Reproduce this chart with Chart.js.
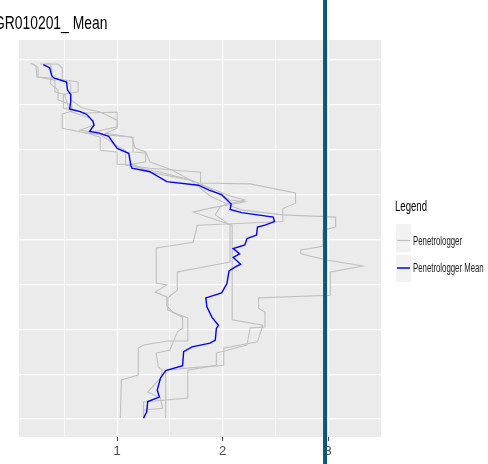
<!DOCTYPE html>
<html>
<head>
<meta charset="utf-8">
<script src="https://cdn.jsdelivr.net/npm/chart.js@4"></script>
<style>
  html, body { margin: 0; padding: 0; background: #fff; }
</style>
</head>
<body>
<canvas id="penChart" width="488" height="464"></canvas>
<script>
// --- data: [resistance, depth] pairs ---
const titleText = 'GR010201_ Mean';
const seriesNames = ['Penetrologger', 'Penetrologger Mean'];
const xTicks = [0.5, 1, 1.5, 2, 2.5, 3, 3.5];
const yTicks = [0, 10, 20, 30, 40, 50, 60, 70, 80];
const limitValue = 2.97;

const profile1 = [[0.20,0.9],[0.25,1.6],[0.25,3.8],[0.41,4.5],[0.41,7.1],[0.49,7.6],[0.49,10.7],[0.70,11.8],[1.00,11.6],[1.00,14.9],[0.72,16.3],[1.15,17.2],[1.15,20.5],[1.27,20.7],[1.27,22.7],[1.10,23.4],[1.31,24.1],[1.79,25.0],[1.79,27.4],[2.26,27.6],[2.69,29.6],[2.69,31.9],[2.57,33.1],[2.57,36.0],[1.76,36.8],[1.72,40.6],[1.37,41.9],[1.37,49.7],[1.47,50.1],[1.36,51.7],[1.47,52.8],[1.47,54.8],[1.53,56.2],[1.67,57.5],[1.67,62.6],[1.48,62.6],[1.25,63.5],[1.20,64.2],[1.20,70.2],[1.04,71.3],[1.03,79.8]];
const profile2 = [[0.32,0.9],[0.44,0.9],[0.48,1.8],[0.48,4.5],[0.56,5.3],[0.56,8.9],[0.67,10.7],[0.84,11.6],[1.00,13.4],[1.00,15.2],[0.89,16.3],[1.14,17.2],[1.17,19.6],[1.27,20.5],[1.31,22.7],[1.52,24.5],[1.69,26.7],[1.88,30.3],[2.17,33.4],[2.57,34.5],[3.07,35.0],[3.07,37.2],[2.95,37.9],[2.95,41.5],[2.74,42.3],[2.74,43.2],[3.00,44.6],[3.33,45.9],[3.02,47.2],[3.02,52.4],[2.34,53.0],[2.34,55.3],[2.40,56.2],[2.40,59.5],[2.26,59.7],[2.23,63.5],[1.94,65.3],[1.94,68.0],[1.67,69.1],[1.67,75.3],[1.25,76.2],[1.25,79.8]];
const profile3 = [[0.27,0.9],[0.37,0.9],[0.38,2.2],[0.38,4.0],[0.63,4.9],[0.63,7.1],[0.50,7.6],[0.54,10.7],[0.57,11.6],[0.74,12.9],[0.79,14.5],[0.65,15.6],[0.82,16.3],[1.00,19.2],[1.08,20.1],[1.08,23.4],[1.41,25.0],[1.69,26.7],[1.83,28.1],[1.93,29.4],[2.07,31.2],[2.21,31.6],[1.88,33.0],[1.72,33.9],[2.09,36.8],[2.09,57.9],[2.38,59.1],[2.33,62.8],[2.01,64.2],[2.01,68.0],[1.69,68.6],[1.46,69.1],[1.46,79.8]];
const profile4 = [[0.18,0.7],[0.23,1.3],[0.24,3.8],[0.37,4.0],[0.37,5.3],[0.44,6.7],[0.44,8.9],[0.57,10.0],[0.57,11.4],[0.48,12.0],[0.48,15.2],[0.72,16.3],[0.84,17.2],[0.84,20.1],[1.00,20.5],[1.00,23.2],[1.17,23.4],[1.31,25.0],[1.69,26.7],[2.07,30.3],[2.21,31.2],[1.98,32.5],[1.93,34.5],[2.07,36.8],[2.07,45.0],[1.57,47.2],[1.57,51.3],[1.48,53.0],[1.48,55.7],[1.62,57.3],[1.62,59.7],[1.57,60.6],[1.50,64.6],[1.37,65.3],[1.39,68.4],[1.43,69.1],[1.41,70.9],[1.29,74.0],[1.41,75.3],[1.43,77.6],[1.25,78.0],[1.25,79.8]];
const meanProfile = [[0.30,1.0],[0.36,1.7],[0.38,3.5],[0.40,4.0],[0.52,4.9],[0.53,6.7],[0.56,7.7],[0.56,9.3],[0.55,10.9],[0.65,11.5],[0.71,12.1],[0.77,13.6],[0.78,14.5],[0.74,15.9],[0.83,16.3],[0.92,17.0],[1.00,19.7],[1.11,20.8],[1.13,23.5],[1.14,24.1],[1.31,24.9],[1.47,27.1],[1.77,27.9],[1.87,29.0],[1.99,30.0],[2.08,32.1],[2.07,33.3],[2.18,34.0],[2.48,35.0],[2.49,36.0],[2.40,36.8],[2.33,37.2],[2.32,39.0],[2.23,39.8],[2.21,41.2],[2.10,42.0],[2.16,43.2],[2.10,44.0],[2.17,45.5],[2.12,46.1],[2.06,47.0],[2.04,49.8],[1.99,51.9],[1.84,53.0],[1.85,55.0],[1.90,57.4],[1.96,59.1],[1.94,59.8],[1.93,62.4],[1.88,63.1],[1.71,63.9],[1.63,65.0],[1.62,68.1],[1.46,69.2],[1.41,70.9],[1.38,73.5],[1.40,75.1],[1.29,76.1],[1.28,78.4],[1.25,79.8]];

const GREY = '#c0c0c0';
const BLUE = '#0000ff';
const LIMIT = '#07587b';

function toPoints(arr) {
  return arr.map(p => ({ x: p[0], y: p[1] }));
}

function greySet(arr) {
  return {
    label: seriesNames[0],
    data: toPoints(arr),
    borderColor: GREY,
    borderWidth: 1.1,
    order: 1
  };
}

// grey panel behind the grid, ggplot style
const panelBg = {
  id: 'panelBg',
  beforeDraw(chart) {
    const a = chart.chartArea, ctx = chart.ctx;
    ctx.save();
    ctx.fillStyle = '#ebebeb';
    ctx.fillRect(a.left, a.top, a.right - a.left, a.bottom - a.top);
    ctx.restore();
  }
};

// title, legend and the vertical limit line
const extras = {
  id: 'extras',
  afterDraw(chart) {
    const ctx = chart.ctx;
    ctx.save();
    ctx.fillStyle = '#000';
    ctx.textBaseline = 'alphabetic';
    ctx.font = '19px "Liberation Sans", Arial, sans-serif';
    ctx.save();
    ctx.translate(-6, 29);
    ctx.scale(0.73, 1);
    ctx.fillText(titleText, 0, 0);
    ctx.restore();

    // legend
    ctx.font = '15px "Liberation Sans", Arial, sans-serif';
    ctx.save();
    ctx.translate(395, 211);
    ctx.scale(0.64, 1);
    ctx.fillText('Legend', 0, 0);
    ctx.restore();

    ctx.fillStyle = '#f2f2f2';
    ctx.fillRect(396, 224, 15, 28);
    ctx.fillRect(396, 255, 15, 27);

    ctx.lineWidth = 1.2;
    ctx.strokeStyle = GREY;
    ctx.beginPath(); ctx.moveTo(397, 240.5); ctx.lineTo(410, 240.5); ctx.stroke();
    ctx.lineWidth = 1.5;
    ctx.strokeStyle = BLUE;
    ctx.beginPath(); ctx.moveTo(397, 268); ctx.lineTo(410, 268); ctx.stroke();

    ctx.fillStyle = '#1a1a1a';
    ctx.font = '13px "Liberation Sans", Arial, sans-serif';
    [[seriesNames[0], 244.5], [seriesNames[1], 272]].forEach(([t, y]) => {
      ctx.save();
      ctx.translate(413, y);
      ctx.scale(0.6, 1);
      ctx.fillText(t, 0, 0);
      ctx.restore();
    });

    // limit line across the whole figure
    const px = chart.scales.x.getPixelForValue(limitValue);
    ctx.strokeStyle = LIMIT;
    ctx.lineWidth = 4;
    ctx.beginPath(); ctx.moveTo(px, 0); ctx.lineTo(px, chart.height); ctx.stroke();
    ctx.restore();
  }
};

new Chart(document.getElementById('penChart'), {
  type: 'scatter',
  data: {
    datasets: [
      {
        label: seriesNames[1],
        data: toPoints(meanProfile),
        borderColor: BLUE,
        borderWidth: 1.4,
        order: 0
      },
      greySet(profile1),
      greySet(profile2),
      greySet(profile3),
      greySet(profile4)
    ]
  },
  options: {
    responsive: false,
    animation: false,
    showLine: true,
    elements: {
      point: { radius: 0, hoverRadius: 0 },
      line: { tension: 0, fill: false }
    },
    layout: { padding: { left: 19, right: 107, top: 40, bottom: 0 } },
    plugins: {
      legend: { display: false },
      title: { display: false },
      tooltip: { enabled: false }
    },
    scales: {
      x: {
        type: 'linear',
        min: 0.07,
        max: 3.5,
        afterBuildTicks: s => { s.ticks = xTicks.map(v => ({ value: v })); },
        afterFit: s => { s.height = 27; },
        border: { display: false },
        grid: {
          color: '#ffffff',
          lineWidth: c => Number.isInteger(c.tick.value) ? 1.2 : 0.6,
          drawTicks: true,
          tickLength: 4,
          tickWidth: 1,
          tickColor: c => Number.isInteger(c.tick.value) ? '#333333' : 'rgba(0,0,0,0)'
        },
        ticks: {
          autoSkip: false,
          maxRotation: 0,
          padding: 3,
          color: '#4d4d4d',
          font: { family: '"Liberation Sans Narrow", "Liberation Sans", Arial', size: 13 },
          callback: v => Number.isInteger(v) ? String(v) : ''
        }
      },
      y: {
        type: 'linear',
        reverse: true,
        min: -4.46,
        max: 84,
        afterBuildTicks: s => { s.ticks = yTicks.map(v => ({ value: v })); },
        afterFit: s => { s.width = 0; },
        border: { display: false },
        grid: { color: '#ffffff', lineWidth: 1.2, drawTicks: false },
        ticks: { display: false }
      }
    }
  },
  plugins: [panelBg, extras]
});
</script>
</body>
</html>
